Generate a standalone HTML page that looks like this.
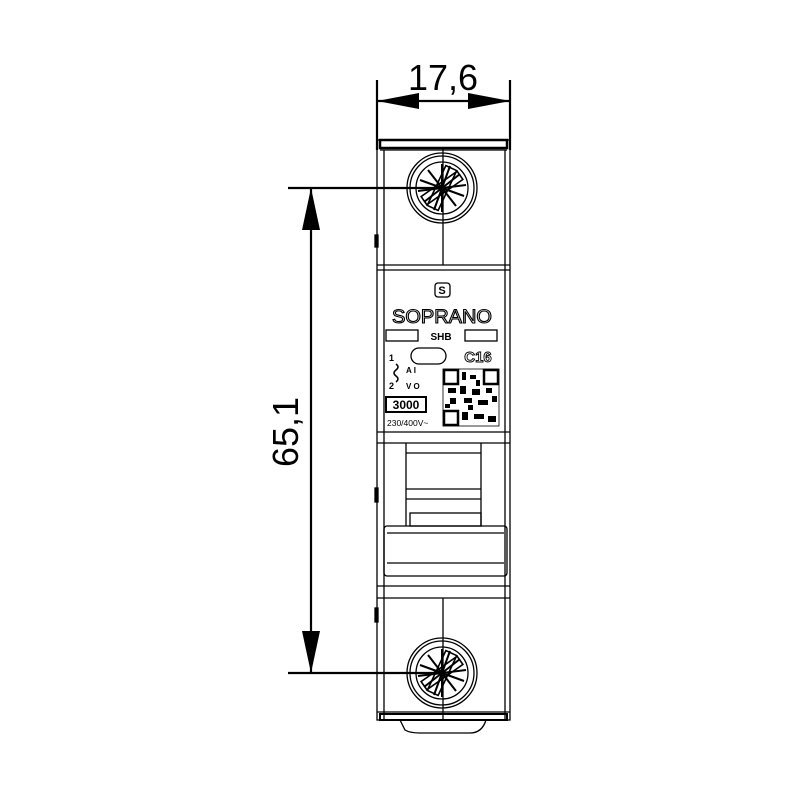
<!DOCTYPE html>
<html><head><meta charset="utf-8"><style>
html,body{margin:0;padding:0;background:#fff;width:800px;height:800px;overflow:hidden}
</style></head><body>
<svg width="800" height="800" viewBox="0 0 800 800" xmlns="http://www.w3.org/2000/svg" font-family="Liberation Sans, sans-serif">
<g fill="none" stroke="#000" stroke-width="1.3">
<rect x="377" y="140" width="133" height="580"/>
<rect x="380" y="140" width="127" height="8" stroke-width="2.5"/>
<line x1="380" y1="150" x2="507" y2="150"/>
<line x1="384" y1="150" x2="384" y2="720"/>
<line x1="505" y1="150" x2="505" y2="720"/>
<line x1="377" y1="265" x2="510" y2="265"/>
<line x1="377" y1="270" x2="510" y2="270"/>
<line x1="377" y1="432" x2="510" y2="432"/>
<line x1="377" y1="443" x2="510" y2="443"/>
<line x1="406" y1="443" x2="406" y2="526"/>
<line x1="481" y1="443" x2="481" y2="526"/>
<line x1="406" y1="453" x2="481" y2="453"/>
<line x1="406" y1="489" x2="481" y2="489"/>
<line x1="406" y1="499" x2="481" y2="499"/>
<rect x="410" y="513" width="71" height="13"/>
<rect x="384" y="526" width="123" height="50" rx="3"/>
<line x1="387" y1="533" x2="504" y2="533"/>
<line x1="387" y1="563" x2="504" y2="563"/>
<line x1="377" y1="586" x2="510" y2="586"/>
<line x1="377" y1="598" x2="510" y2="598"/>
<line x1="377" y1="712" x2="510" y2="712"/>
<rect x="380" y="714" width="127" height="6" stroke-width="2"/>
<path d="M400 720 L405 730 Q410 733 420 733 L470 733 Q482 733 486 720"/>
<line x1="443" y1="148" x2="443" y2="265"/>
<line x1="443" y1="598" x2="443" y2="720"/>
<rect x="375" y="235" width="3" height="12" fill="#000"/>
<rect x="375" y="488" width="3" height="14" fill="#000"/>
<rect x="375" y="608" width="3" height="14" fill="#000"/>
</g>
<g fill="none" stroke="#000" stroke-width="1.3">
<g transform="translate(442,188)">
<circle r="35"/><circle r="32"/><circle r="26"/>
<g stroke-width="2">
<line x1="-22" y1="-8" x2="22" y2="8"/><line x1="-8" y1="22" x2="8" y2="-22"/>
<line x1="-18" y1="14" x2="18" y2="-14"/><line x1="-14" y1="-18" x2="14" y2="18"/>
<line x1="0" y1="-24" x2="0" y2="24"/><line x1="-24" y1="3" x2="24" y2="-3"/>
</g>
<rect x="-6" y="-22" width="12" height="44" transform="rotate(25)" stroke-width="1.6"/>
<rect x="-22" y="-5" width="44" height="10" transform="rotate(-35)" stroke-width="1.6"/>
</g>
<g transform="translate(442,673)">
<circle r="35"/><circle r="32"/><circle r="26"/>
<g stroke-width="2">
<line x1="-22" y1="-8" x2="22" y2="8"/><line x1="-8" y1="22" x2="8" y2="-22"/>
<line x1="-18" y1="14" x2="18" y2="-14"/><line x1="-14" y1="-18" x2="14" y2="18"/>
<line x1="0" y1="-24" x2="0" y2="24"/><line x1="-24" y1="3" x2="24" y2="-3"/>
</g>
<rect x="-6" y="-22" width="12" height="44" transform="rotate(25)" stroke-width="1.6"/>
<rect x="-22" y="-5" width="44" height="10" transform="rotate(-35)" stroke-width="1.6"/>
</g>
</g>
<g stroke="#000" fill="none" stroke-width="1.3">
<rect x="435" y="283" width="15" height="14" rx="3"/>
<rect x="386" y="330" width="32" height="11"/>
<rect x="465" y="330" width="32" height="11"/>
<rect x="411" y="348" width="35" height="16" rx="8"/>
<rect x="386" y="397" width="40" height="15" stroke-width="2"/>
<rect x="443" y="369" width="56" height="57" stroke-width="0.8"/>
</g>
<text x="442" y="294" font-size="11" text-anchor="middle" font-weight="bold">S</text>
<text x="392" y="323" font-size="19" textLength="100" lengthAdjust="spacingAndGlyphs" fill="none" stroke="#000" stroke-width="1.1">SOPRANO</text>
<text x="441" y="340" font-size="10" text-anchor="middle" font-weight="bold">SHB</text>
<text x="478" y="362" font-size="15" text-anchor="middle" font-weight="bold" fill="none" stroke="#000" stroke-width="0.9">C16</text>
<text x="389" y="361" font-size="9" font-weight="bold">1</text>
<text x="389" y="389" font-size="9" font-weight="bold">2</text>
<path d="M396 364 q4 3 0 6 q-4 3 0 6 q4 3 0 6" fill="none" stroke="#000" stroke-width="1.5"/>
<text x="406" y="373" font-size="8" font-weight="bold">A I</text>
<text x="406" y="389" font-size="8" font-weight="bold">V O</text>
<text x="406" y="409" font-size="12" text-anchor="middle" font-weight="bold">3000</text>
<text x="387" y="426" font-size="8.5">230/400V~</text>
<g fill="#000">
<rect x="444" y="370" width="14" height="14" fill="none" stroke="#000" stroke-width="2.5"/>
<rect x="484" y="370" width="14" height="14" fill="none" stroke="#000" stroke-width="2.5"/>
<rect x="444" y="411" width="14" height="14" fill="none" stroke="#000" stroke-width="2.5"/>
<rect x="462" y="372" width="4" height="8"/><rect x="470" y="375" width="6" height="4"/>
<rect x="448" y="388" width="8" height="5"/><rect x="460" y="386" width="6" height="8"/>
<rect x="472" y="389" width="8" height="6"/><rect x="486" y="388" width="6" height="5"/>
<rect x="450" y="398" width="6" height="6"/><rect x="464" y="398" width="8" height="5"/>
<rect x="478" y="400" width="10" height="5"/><rect x="462" y="412" width="6" height="8"/>
<rect x="474" y="414" width="10" height="5"/><rect x="488" y="416" width="8" height="6"/>
<rect x="476" y="380" width="4" height="6"/><rect x="492" y="396" width="5" height="6"/>
<rect x="445" y="404" width="5" height="4"/><rect x="468" y="405" width="5" height="5"/>
</g>
<g stroke="#000" stroke-width="2.2">
<line x1="377" y1="80" x2="377" y2="150"/>
<line x1="510" y1="80" x2="510" y2="150"/>
<line x1="377" y1="101" x2="510" y2="101"/>
</g>
<polygon points="377,101 419,93 419,109" fill="#000"/>
<polygon points="510,101 468,93 468,109" fill="#000"/>
<text x="443" y="90" font-size="36" text-anchor="middle">17,6</text>
<g stroke="#000" stroke-width="2.2">
<line x1="288" y1="188" x2="442" y2="188"/>
<line x1="288" y1="673" x2="442" y2="673"/>
<line x1="311" y1="188" x2="311" y2="673"/>
</g>
<polygon points="311,188 302,230 320,230" fill="#000"/>
<polygon points="311,673 302,631 320,631" fill="#000"/>
<text x="0" y="0" font-size="36" text-anchor="middle" transform="translate(298,432) rotate(-90)">65,1</text>
</svg>
</body></html>
